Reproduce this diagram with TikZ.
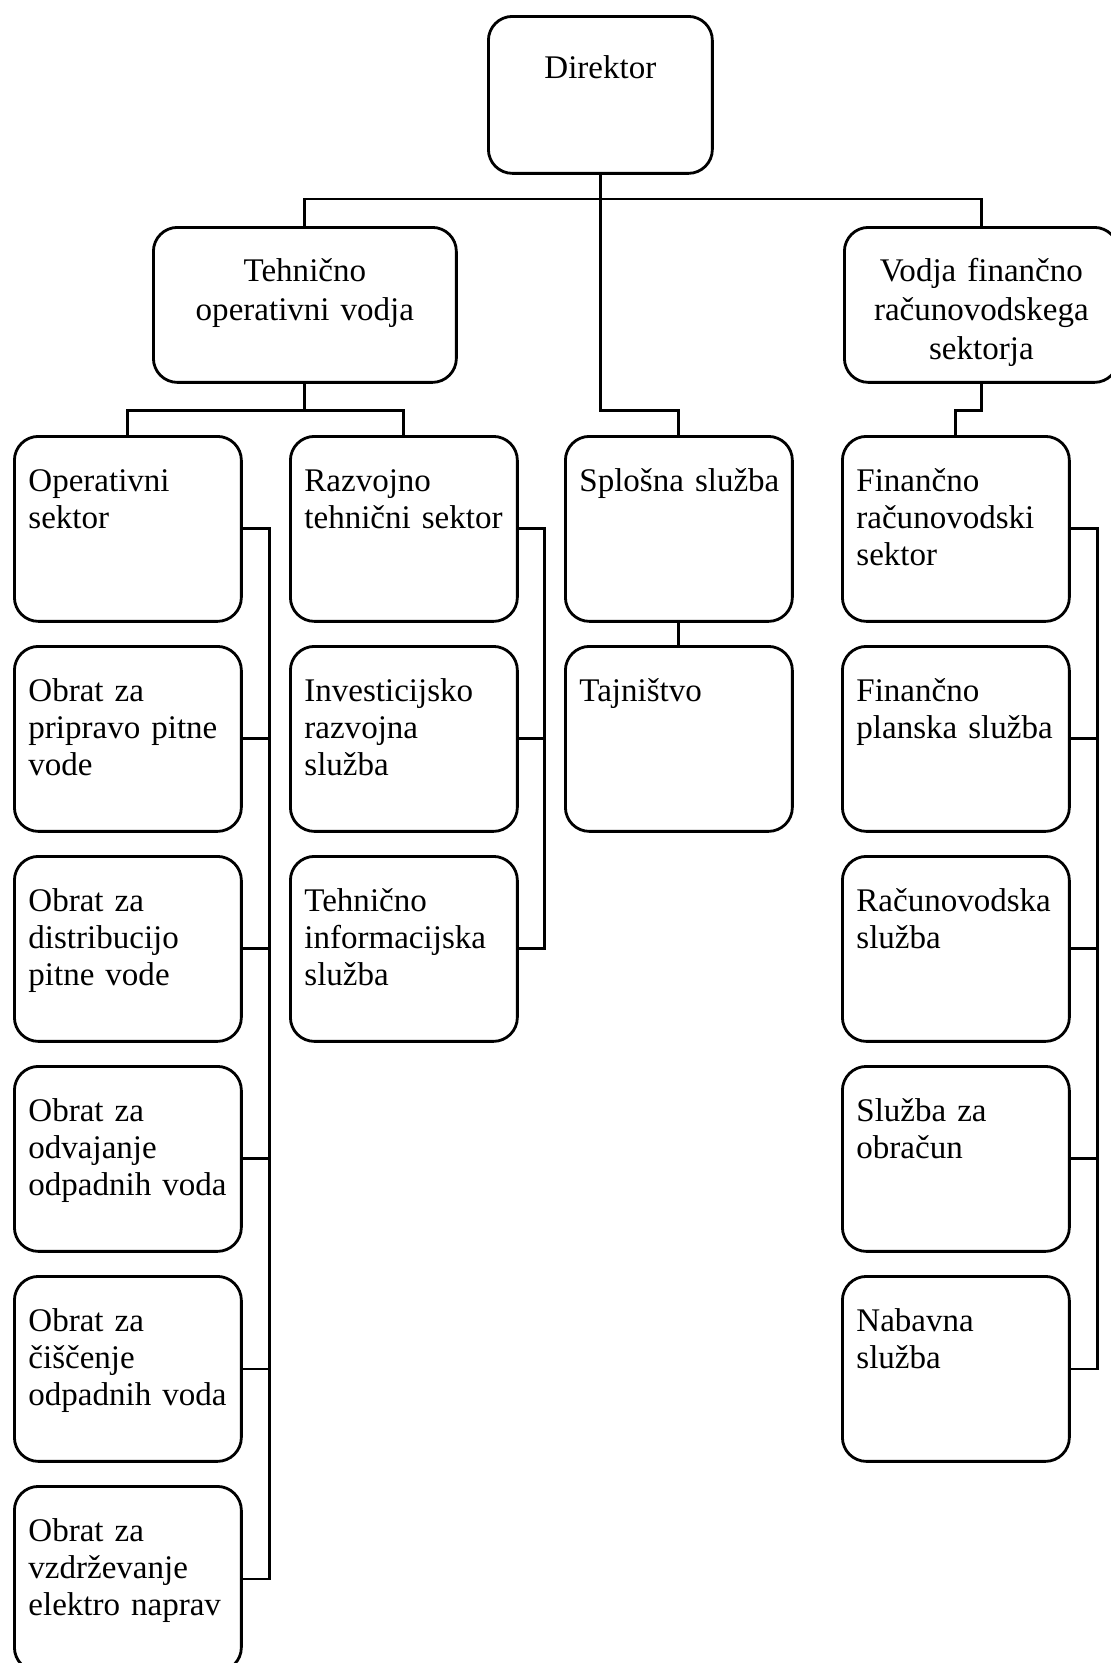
\documentclass[tikz,border=0pt]{standalone}
\usepackage{fontspec}
\setmainfont{Liberation Serif}
\usetikzlibrary{positioning,calc}
\newcommand{\boxfont}{\fontsize{18.8pt}{21pt}\selectfont}
\newcommand{\headfont}{\fontsize{18.8pt}{22.2pt}\selectfont}

\begin{document}
\begin{tikzpicture}[x=0.02cm,y=-0.02cm,line width=1.6pt,
  hd/.style={draw,rounded corners=0.48cm,anchor=north west,align=center,inner sep=0pt,text height=1.08cm,text depth=2.02cm,font=\headfont},
  bx/.style={draw,rounded corners=0.48cm,anchor=north west,text width=3.98cm,align=left,inner xsep=0.28cm,inner ysep=0pt,text height=1.1cm,text depth=2.6cm,font=\boxfont}]
\useasboundingbox (0,0) rectangle (1110,1663);
% top of the chart
\node[hd,text width=4.48cm,text height=1.24cm,text depth=1.9cm] (D) at (487,15) {Direktor};
\node[hd,text width=6.06cm] (T) at (152,226) {Tehnično\\operativni vodja};
\node[hd,text width=5.48cm] (V) at (843,226) {Vodja finančno\\računovodskega\\sektorja};
% columns
\foreach \i/\y/\t in {0/435/{Operativni\\sektor},1/645/{Obrat za\\pripravo pitne\\vode},2/855/{Obrat za\\distribucijo\\pitne vode},
  3/1065/{Obrat za\\odvajanje\\odpadnih voda},4/1275/{Obrat za\\čiščenje\\odpadnih voda},5/1485/{Obrat za\\vzdrževanje\\elektro naprav}}
  \node[bx] (O\i) at (13,\y) {\t};
\foreach \i/\y/\t in {0/435/{Razvojno\\tehnični sektor},1/645/{Investicijsko\\razvojna\\služba},2/855/{Tehnično\\informacijska\\služba}}
  \node[bx] (R\i) at (289,\y) {\t};
\foreach \i/\y/\t in {0/435/{\mbox{Splošna služba}},1/645/{Tajništvo}}
  \node[bx] (S\i) at (564,\y) {\t};
\foreach \i/\y/\t in {0/435/{Finančno\\računovodski\\sektor},1/645/{Finančno\\planska služba},2/855/{Računovodska\\služba},
  3/1065/{Služba za\\obračun},4/1275/{Nabavna\\služba}}
  \node[bx] (F\i) at (841,\y) {\t};
% connectors
\draw (T.north) -- ++(0,-27) -| (V.north);
\draw (D.south) -- ++(0,236) -| (S0.north);
\draw (T.south) -- ++(0,27) -| (O0.north);
\draw (T.south) -- ++(0,27) -| (R0.north);
\draw (V.south) -- ++(0,27) -| (F0.north);
\draw (S0.south) -- (S1.north);
\draw (O0.east) -- ++(27,0) |- (O5.east);
\foreach \i in {1,...,4} \draw (O\i.east) -- ++(27,0);
\draw (R0.east) -- ++(26,0) |- (R2.east);
\draw (R1.east) -- ++(26,0);
\draw (F0.east) -- ++(27,0) |- (F4.east);
\foreach \i in {1,2,3} \draw (F\i.east) -- ++(27,0);
\end{tikzpicture}
\end{document}
